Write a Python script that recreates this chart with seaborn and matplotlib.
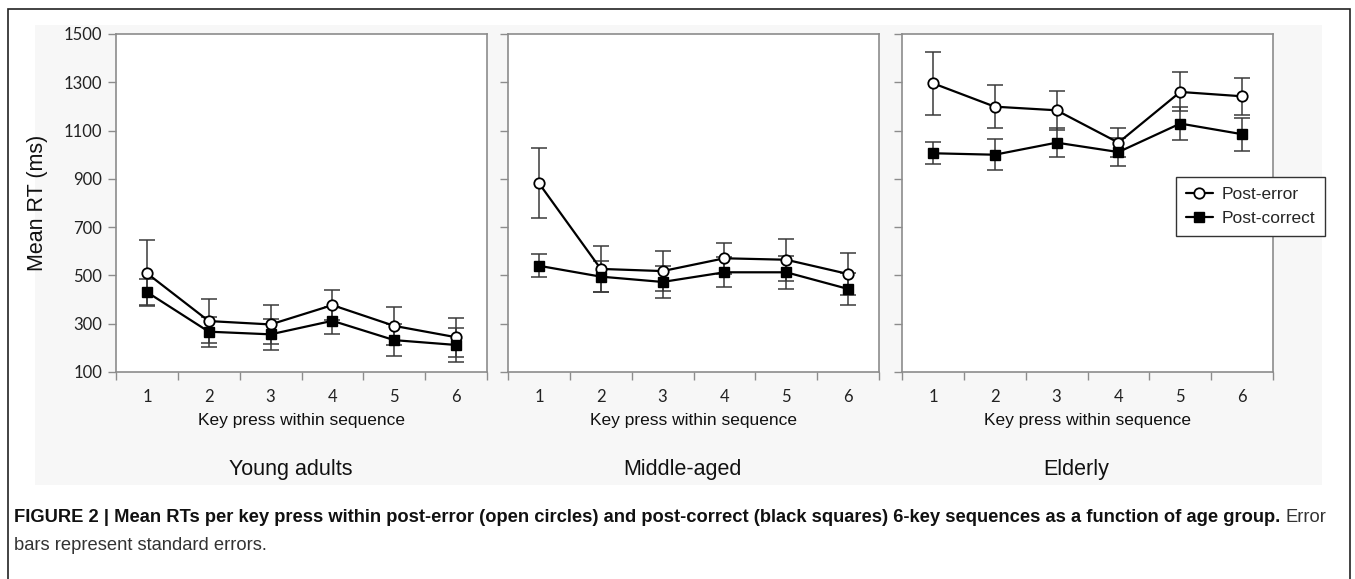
import matplotlib
matplotlib.use("Agg")
import matplotlib.pyplot as plt
import seaborn as sns
import numpy as np
import pandas as pd
from matplotlib.lines import Line2D
from matplotlib.patches import Rectangle

# data (ms)
key_press = [1, 2, 3, 4, 5, 6]
groups = ["Young adults", "Middle-aged", "Elderly"]

young_err = [509, 311, 297, 377, 291, 244]
young_err_se = [137, 90, 80, 63, 80, 80]
young_cor = [431, 267, 256, 312, 232, 212]
young_cor_se = [55, 62, 65, 56, 66, 69]

middle_err = [882, 527, 518, 571, 565, 506]
middle_err_se = [145, 96, 84, 64, 87, 86]
middle_cor = [540, 495, 473, 513, 513, 444]
middle_cor_se = [47, 65, 65, 62, 69, 67]

elderly_err = [1296, 1199, 1184, 1050, 1260, 1242]
elderly_err_se = [131, 90, 80, 61, 81, 77]
elderly_cor = [1006, 1000, 1050, 1011, 1129, 1085]
elderly_cor_se = [45, 65, 61, 58, 68, 68]

panels = [
    (young_err, young_err_se, young_cor, young_cor_se),
    (middle_err, middle_err_se, middle_cor, middle_cor_se),
    (elderly_err, elderly_err_se, elderly_cor, elderly_cor_se),
]

sns.set_theme(style="white")
plt.rcParams['font.family'] = ['Liberation Sans', 'DejaVu Sans']

W, H = 1355, 579
fig = plt.figure(figsize=(W / 100, H / 100), dpi=100)
fig.patch.set_facecolor("white")

# light grey plotting region and outer frame
fig.add_artist(Rectangle((35 / W, 1 - 485 / H), (1322 - 35) / W, (485 - 25) / H,
                         transform=fig.transFigure, facecolor="#f7f7f7", edgecolor="none", zorder=0))
fig.add_artist(Rectangle((8 / W, -0.05), (1350 - 8) / W, 1.05 - 9 / H,
                         transform=fig.transFigure, fill=False, edgecolor="#222222", lw=1.2, zorder=5))

ax_left = [116, 508, 902]
ax_w, ax_top, ax_bot = 371, 34, 372
spine_col = "#8c8c8c"
msize = 7.5

for i, (err, err_se, cor, cor_se) in enumerate(panels):
    ax = fig.add_axes([ax_left[i] / W, 1 - ax_bot / H, ax_w / W, (ax_bot - ax_top) / H])
    ax.set_facecolor("white")
    df_err = pd.DataFrame({"key": key_press, "rt": err})
    df_cor = pd.DataFrame({"key": key_press, "rt": cor})

    ax.errorbar(key_press, err, yerr=err_se, fmt="none", ecolor="#3a3a3a",
                elinewidth=1.1, capsize=5.5, capthick=1.1, zorder=1)
    ax.errorbar(key_press, cor, yerr=cor_se, fmt="none", ecolor="#3a3a3a",
                elinewidth=1.1, capsize=5.5, capthick=1.1, zorder=1)
    sns.lineplot(data=df_err, x="key", y="rt", ax=ax, color="black", lw=1.6,
                 marker="o", markersize=msize, markerfacecolor="white",
                 markeredgecolor="black", markeredgewidth=1.3, zorder=3)
    sns.lineplot(data=df_cor, x="key", y="rt", ax=ax, color="black", lw=1.6,
                 marker="s", markersize=msize, markerfacecolor="black",
                 markeredgecolor="black", markeredgewidth=1.0, zorder=3)

    ax.set_xlim(0.5, 6.5)
    ax.set_ylim(100, 1500)
    ax.set_yticks(np.arange(100, 1501, 200))
    ax.set_xticks(key_press)
    ax.set_xticks(np.arange(0.5, 6.6, 1), minor=True)
    ax.tick_params(axis="x", which="major", length=0, pad=12, labelsize=12, labelcolor="#222222")
    ax.tick_params(axis="x", which="minor", direction="out", length=6, width=1, color=spine_col, bottom=True)
    ax.tick_params(axis="y", direction="out", length=6, width=1, color=spine_col, left=True,
                   pad=4, labelsize=12, labelcolor="#222222")
    for lab in ax.get_xticklabels() + ax.get_yticklabels():
        lab.set_family(['Lato', 'DejaVu Sans'])
    if i > 0:
        ax.set_yticklabels([])
    for sp in ax.spines.values():
        sp.set_color(spine_col)
        sp.set_linewidth(1.2)
    ax.set_ylabel("")
    ax.set_xlabel("Key press within sequence", fontsize=12.5, color="#111111", labelpad=6)
    if i == 0:
        ax.set_ylabel("Mean RT (ms)", fontsize=15.5, color="#111111")
        ax.yaxis.set_label_coords(-0.183, 0.5)

    cx = (ax_left[i] + ax_w / 2 - 11) / W
    fig.text(cx, 1 - 470 / H, groups[i], ha="center", va="center", fontsize=15.5,
             color="#111111")

handles = [
    Line2D([0], [0], color="black", lw=1.6, marker="o", markersize=msize,
           markerfacecolor="white", markeredgecolor="black", markeredgewidth=1.3),
    Line2D([0], [0], color="black", lw=1.6, marker="s", markersize=msize,
           markerfacecolor="black", markeredgecolor="black"),
]
leg = fig.legend(handles, ["Post-error", "Post-correct"], loc="upper left",
                 bbox_to_anchor=(1176 / W, 1 - 177 / H), frameon=True, fancybox=False,
                 edgecolor="#333333", framealpha=1, handlelength=1.6, handletextpad=0.5,
                 borderpad=0.55, borderaxespad=0, labelspacing=0.55,
                 prop={"size": 12.5})
leg.get_frame().set_linewidth(1.0)

# caption
cap_size = 13.2
t1 = fig.text(14 / W, 1 - 518 / H,
              "FIGURE 2 | Mean RTs per key press within post-error (open circles) and post-correct "
              "(black squares) 6-key sequences as a function of age group.",
              ha="left", va="center", fontsize=cap_size, fontweight="bold", color="#111111")
fig.canvas.draw()
bb = t1.get_window_extent()
fig.text((bb.x1 + 5) / W, 1 - 518 / H, "Error", ha="left", va="center",
         fontsize=cap_size, color="#333333")
fig.text(14 / W, 1 - 546 / H, "bars represent standard errors.", ha="left", va="center",
         fontsize=cap_size, color="#333333")

fig.savefig("out.png", dpi=100)
